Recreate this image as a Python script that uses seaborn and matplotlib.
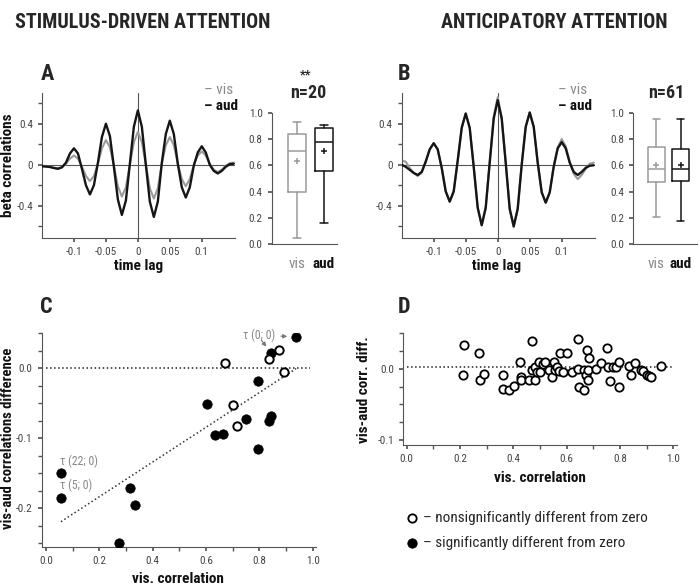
import numpy as np
import matplotlib
matplotlib.use("Agg")
import matplotlib.pyplot as plt
import matplotlib.font_manager as fm
import seaborn as sns

# ---- data ----
lags = np.round(np.arange(-24, 25) * 0.00625, 5)

a_vis = [-0.01, -0.015, -0.02, -0.03, -0.035, -0.025, 0.01, 0.06, 0.09, 0.06,
         -0.02, -0.11, -0.16, -0.11, 0.01, 0.16, 0.24, 0.17, -0.01, -0.21,
         -0.31, -0.22, 0.0, 0.22, 0.32, 0.22, 0.0, -0.23, -0.33, -0.23,
         0.01, 0.19, 0.27, 0.19, 0.01, -0.14, -0.21, -0.14, 0.0, 0.09,
         0.13, 0.09, 0.01, -0.05, -0.07, -0.05, -0.01, 0.015, 0.02]
a_aud = [-0.015, -0.018, -0.022, -0.032, -0.04, -0.025, 0.02, 0.11, 0.16, 0.11,
         -0.04, -0.20, -0.29, -0.20, 0.02, 0.27, 0.40, 0.28, -0.02, -0.34,
         -0.49, -0.35, 0.01, 0.37, 0.53, 0.37, 0.0, -0.36, -0.51, -0.36,
         0.02, 0.30, 0.43, 0.30, 0.01, -0.22, -0.32, -0.22, -0.01, 0.12,
         0.18, 0.12, 0.0, -0.06, -0.085, -0.06, -0.02, 0.005, 0.01]
b_vis = [0.04, 0.03, -0.03, -0.08, -0.11, -0.08, 0.03, 0.15, 0.21, 0.15,
         -0.03, -0.26, -0.36, -0.26, 0.04, 0.36, 0.50, 0.36, -0.02, -0.42,
         -0.59, -0.42, 0.03, 0.47, 0.66, 0.46, 0.02, -0.44, -0.61, -0.43,
         0.01, 0.37, 0.51, 0.37, 0.02, -0.27, -0.37, -0.27, -0.01, 0.17,
         0.25, 0.18, 0.03, -0.09, -0.14, -0.10, -0.04, 0.01, 0.02]
b_aud = [0.0, -0.02, -0.05, -0.08, -0.10, -0.07, 0.03, 0.15, 0.21, 0.15,
         -0.03, -0.26, -0.36, -0.26, 0.04, 0.36, 0.50, 0.36, -0.02, -0.42,
         -0.59, -0.42, 0.02, 0.45, 0.63, 0.45, 0.02, -0.43, -0.60, -0.43,
         0.0, 0.37, 0.51, 0.37, 0.02, -0.27, -0.37, -0.27, -0.02, 0.16,
         0.22, 0.16, 0.02, -0.07, -0.10, -0.07, -0.03, -0.01, -0.005]

# box summaries: whislo, q1, median, q3, whishi, mean
box_a_vis = [0.05, 0.40, 0.71, 0.84, 0.93, 0.63]
box_a_aud = [0.16, 0.56, 0.78, 0.88, 0.91, 0.71]
box_b_vis = [0.21, 0.47, 0.575, 0.74, 0.95, 0.60]
box_b_aud = [0.18, 0.48, 0.575, 0.725, 0.95, 0.60]

# panel C
c_sig_x = [0.056, 0.056, 0.274, 0.315, 0.334, 0.6025, 0.6325, 0.665, 0.75,
           0.794, 0.794, 0.834, 0.844, 0.843, 0.9375]
c_sig_y = [-0.150, -0.186, -0.249, -0.171, -0.195, -0.051, -0.096, -0.094, -0.072,
           -0.018, -0.116, -0.075, -0.068, 0.022, 0.045]
c_ns_x = [0.671, 0.700, 0.715, 0.834, 0.873, 0.8925]
c_ns_y = [0.007, -0.052, -0.082, 0.013, 0.026, -0.005]

# panel D
d_x = [0.216, 0.209, 0.27, 0.274, 0.291, 0.36, 0.361, 0.385, 0.401, 0.426,
       0.43, 0.429, 0.46, 0.469, 0.47, 0.48, 0.4825, 0.4875, 0.496, 0.50,
       0.509, 0.52, 0.535, 0.544, 0.5525, 0.554, 0.565, 0.57, 0.575, 0.5875,
       0.6025, 0.62, 0.641, 0.6425, 0.646, 0.666, 0.666, 0.671, 0.675, 0.681,
       0.681, 0.684, 0.709, 0.729, 0.75, 0.755, 0.7625, 0.7725, 0.785, 0.794,
       0.796, 0.8325, 0.8425, 0.855, 0.8775, 0.8875, 0.90, 0.909, 0.9175, 0.9525]
d_y = [0.034, -0.008, 0.022, -0.015, -0.0075, -0.028, -0.008, -0.029, -0.024, 0.0094,
       -0.012, -0.015, -0.016, -0.002, 0.0385, -0.016, 0.003, -0.005, 0.010, -0.005,
       0.007, 0.010, -0.0014, -0.012, 0.009, -0.001, 0.002, -0.003, 0.023, -0.005,
       0.022, -0.004, 0.042, -0.0005, -0.026, -0.029, -0.002, -0.009, 0.027, -0.0014,
       -0.015, 0.015, 0.0, 0.008, 0.030, 0.002, -0.017, 0.002, 0.002, 0.010,
       -0.026, 0.004, -0.008, 0.008, -0.002, -0.003, -0.008, -0.010, -0.012, 0.004]

VIS = "#9a9a9a"
AUD = "#151515"
TXT = "#444444"

sns.set_theme(style="ticks")

# pick a condensed face if one is installed
names = {f.name for f in fm.fontManager.ttflist}
font = None
for cand in ["Roboto Condensed", "Liberation Sans Narrow", "Open Sans Condensed",
             "Noto Sans Condensed", "DejaVu Sans Condensed"]:
    if cand in names:
        font = cand
        break
stretch = "normal"
if font is None:
    for f in fm.fontManager.ttflist:
        if str(f.stretch) in ("condensed", "semi-condensed", "extra-condensed"):
            font = f.name
            stretch = "condensed"
            break
if font is None:
    font = "Liberation Sans"
plt.rcParams["font.family"] = [font, "DejaVu Sans"]
plt.rcParams["font.stretch"] = stretch
plt.rcParams["axes.unicode_minus"] = False
plt.rcParams["axes.edgecolor"] = "#555555"
plt.rcParams["axes.linewidth"] = 0.8
plt.rcParams["xtick.color"] = "#555555"
plt.rcParams["ytick.color"] = "#555555"
plt.rcParams["xtick.labelcolor"] = TXT
plt.rcParams["ytick.labelcolor"] = TXT
plt.rcParams["xtick.labelsize"] = 8
plt.rcParams["ytick.labelsize"] = 8
plt.rcParams["xtick.major.size"] = 3
plt.rcParams["ytick.major.size"] = 3
plt.rcParams["xtick.minor.size"] = 3
plt.rcParams["ytick.minor.size"] = 3

W, H = 700, 585
fig = plt.figure(figsize=(7, 5.85), dpi=100)


def box_px(left, top, right, bottom):
    return [left / W, 1 - bottom / H, (right - left) / W, (bottom - top) / H]


def ftext(x, y, s, **kw):
    fig.text(x / W, 1 - y / H, s, **kw)


def label_at(ax, axis, xpx, ypx):
    # anchor an axis label at a figure pixel position
    inv = ax.transAxes.inverted()
    pos = inv.transform(fig.transFigure.transform((xpx / W, 1 - ypx / H)))
    if axis == "y":
        ax.yaxis.set_label_coords(pos[0], pos[1])
    else:
        ax.xaxis.set_label_coords(pos[0], pos[1])


def line_panel(ax, vis, aud):
    ax.axhline(0, color="#555555", lw=0.8, zorder=1)
    ax.axvline(0, color="#555555", lw=0.8, zorder=1)
    sns.lineplot(x=lags, y=vis, ax=ax, color=VIS, lw=1.5, zorder=2)
    sns.lineplot(x=lags, y=aud, ax=ax, color=AUD, lw=1.7, zorder=3)
    ax.set_xlim(-0.15, 0.152)
    ax.set_ylim(-0.715, 0.70)
    ax.set_xticks([-0.1, -0.05, 0, 0.05, 0.1], ["-0.1", "-0.05", "0", "0.05", "0.1"])
    ax.set_yticks([-0.4, 0, 0.4], ["-0.4", "0", "0.4"])
    ax.set_yticks([-0.6, -0.2, 0.2, 0.6], minor=True)
    ax.tick_params(axis="y", which="minor", labelleft=False)
    ax.set_xlabel("time lag", fontsize=11, fontweight="bold", color="#111111")
    sns.despine(ax=ax)


def box_panel(ax, vis, aud, xlim):
    stats = []
    for vals, lab in [(vis, "vis"), (aud, "aud")]:
        stats.append(dict(whislo=vals[0], q1=vals[1], med=vals[2], q3=vals[3],
                          whishi=vals[4], mean=vals[5], fliers=[], label=lab))
    for i, (st, col) in enumerate(zip(stats, [VIS, AUD])):
        ax.bxp([st], positions=[i], widths=0.68, showmeans=True, showfliers=False,
               boxprops=dict(color=col, lw=1.1), whiskerprops=dict(color=col, lw=1.1),
               capprops=dict(color=col, lw=1.1), medianprops=dict(color=col, lw=1.1),
               meanprops=dict(marker="+", markeredgecolor=col, markersize=5, mew=1.1),
               capwidths=0.3)
    ax.set_xlim(*xlim)
    ax.set_ylim(0, 1.0)
    ax.set_yticks(np.round(np.arange(0, 1.01, 0.2), 1),
                  ["0.0", "0.2", "0.4", "0.6", "0.8", "1.0"])
    ax.set_xticks([0, 1], ["vis", "aud"])
    ax.tick_params(axis="x", length=0, pad=9, labelsize=11)
    lbls = ax.get_xticklabels()
    lbls[0].set_color("#8a8a8a")
    lbls[1].set_color("#111111")
    lbls[1].set_fontweight("bold")
    sns.despine(ax=ax)


# ---- top row ----
ax_a = fig.add_axes(box_px(42, 93, 235, 238))
line_panel(ax_a, a_vis, a_aud)
ax_a.set_ylabel("beta correlations", fontsize=11, fontweight="bold", color="#111111")
label_at(ax_a, "y", 15, 165)
label_at(ax_a, "x", 139, 259)

ax_ab = fig.add_axes(box_px(271.7, 112.7, 337, 244.3))
box_panel(ax_ab, box_a_vis, box_a_aud, (-0.96, 1.49))

ax_b = fig.add_axes(box_px(401.7, 93, 595, 238))
line_panel(ax_b, b_vis, b_aud)
label_at(ax_b, "x", 497, 259)

ax_bb = fig.add_axes(box_px(633.3, 112.7, 696.7, 244.3))
box_panel(ax_bb, box_b_vis, box_b_aud, (-0.94, 1.65))

# ---- panel C ----
ax_c = fig.add_axes(box_px(41.7, 333.3, 316, 546.7))
ax_c.hlines(0, 0, 0.99, colors="#222222", lw=1.1, linestyles=":")
sns.regplot(x=c_sig_x + c_ns_x, y=c_sig_y + c_ns_y, ax=ax_c, scatter=False, ci=None,
            truncate=True, line_kws=dict(color="#333333", lw=1.1, ls=":"))
sns.scatterplot(x=c_sig_x, y=c_sig_y, ax=ax_c, color="black", s=46, edgecolor="black",
                linewidth=0.5, zorder=4)
sns.scatterplot(x=c_ns_x, y=c_ns_y, ax=ax_c, color="white", s=36, edgecolor="black",
                linewidth=1.4, zorder=4)
ax_c.set_xlim(-0.016, 1.012)
ax_c.set_ylim(-0.255, 0.05)
ax_c.set_xticks(np.round(np.arange(0, 1.01, 0.2), 1),
                ["0.0", "0.2", "0.4", "0.6", "0.8", "1.0"])
ax_c.set_xticks(np.round(np.arange(0.1, 1.0, 0.2), 1), minor=True)
ax_c.set_yticks([-0.2, -0.1, 0.0], ["-0.2", "-0.1", "0.0"])
ax_c.set_yticks(np.round(np.arange(-0.25, 0.051, 0.025), 3), minor=True)
ax_c.tick_params(which="minor", labelbottom=False, labelleft=False)
ax_c.set_ylabel("vis-aud correlations difference", fontsize=10.5, fontweight="bold",
                color="#111111")
ax_c.set_xlabel("vis. correlation", fontsize=11, fontweight="bold", color="#111111")
label_at(ax_c, "y", 15, 438)
label_at(ax_c, "x", 178, 572)
sns.despine(ax=ax_c)
ax_c.text(0.054, -0.142, "τ (22; 0)", color="#888888", fontsize=8.5, va="bottom")
ax_c.text(0.054, -0.177, "τ (5; 0)", color="#888888", fontsize=8.5, va="bottom")
ax_c.annotate("τ (0; 0)", xy=(0.925, 0.045), xytext=(0.737, 0.0476), color="#888888",
              fontsize=8.5, va="center",
              arrowprops=dict(arrowstyle="-|>", color="#777777", lw=0.8, mutation_scale=6,
                              shrinkB=4))
ax_c.annotate("", xy=(0.826, 0.031), xytext=(0.807, 0.040),
              arrowprops=dict(arrowstyle="-|>", color="#777777", lw=0.8, mutation_scale=6,
                              shrinkA=0, shrinkB=0))

# ---- panel D ----
ax_d = fig.add_axes(box_px(403.3, 333.3, 676.7, 445))
ax_d.hlines(0.002, 0, 1.0, colors="#222222", lw=1.1, linestyles=":")
sns.scatterplot(x=d_x, y=d_y, ax=ax_d, color="white", s=36, edgecolor="black",
                linewidth=1.3, zorder=4)
ax_d.set_xlim(-0.013, 1.012)
ax_d.set_ylim(-0.107, 0.05)
ax_d.set_xticks(np.round(np.arange(0, 1.01, 0.2), 1),
                ["0.0", "0.2", "0.4", "0.6", "0.8", "1.0"])
ax_d.set_xticks(np.round(np.arange(0.1, 1.0, 0.2), 1), minor=True)
ax_d.set_yticks([-0.1, 0.0], ["-0.1", "0.0"])
ax_d.set_yticks(np.round(np.arange(-0.1, 0.051, 0.025), 3), minor=True)
ax_d.tick_params(which="minor", labelbottom=False, labelleft=False)
ax_d.set_ylabel("vis-aud corr. diff.", fontsize=11, fontweight="bold", color="#111111")
ax_d.set_xlabel("vis. correlation", fontsize=11, fontweight="bold", color="#111111")
label_at(ax_d, "y", 371, 390)
label_at(ax_d, "x", 540, 471)
sns.despine(ax=ax_d)

# ---- titles, letters, small texts ----
ftext(15, 22, "STIMULUS-DRIVEN ATTENTION", fontsize=14.5, fontweight="bold", va="center")
ftext(441, 22, "ANTICIPATORY ATTENTION", fontsize=14.5, fontweight="bold", va="center")
for lx, ly, letter in [(41, 74, "A"), (398, 74, "B"), (40, 307, "C"), (398, 307, "D")]:
    ftext(lx, ly, letter, fontsize=16, fontweight="bold", va="center")

for x0 in (204, 558):
    ftext(x0, 90, "– vis", fontsize=11, color="#8a8a8a", va="center")
    ftext(x0, 106, "– aud", fontsize=11, fontweight="bold", color="#111111", va="center")

ftext(306, 75, "**", fontsize=9, fontweight="bold", ha="center", va="center")
ftext(308, 93, "n=20", fontsize=13, fontweight="bold", ha="center", va="center")
ftext(666, 93, "n=61", fontsize=13, fontweight="bold", ha="center", va="center")

# legend for significance markers
ax_leg = fig.add_axes(box_px(400, 505, 700, 555))
ax_leg.set_axis_off()
ax_leg.set_xlim(0, 300)
ax_leg.set_ylim(50, 0)
leg_y = [13.3, 38.3]
sns.scatterplot(x=[11.7], y=[leg_y[0]], ax=ax_leg, color="white", s=36, edgecolor="black",
                linewidth=1.3)
sns.scatterplot(x=[11.7], y=[leg_y[1]], ax=ax_leg, color="black", s=46, edgecolor="black")
ax_leg.text(23, leg_y[0], "– nonsignificantly different from zero", fontsize=11, va="center")
ax_leg.text(23, leg_y[1], "– significantly different from zero", fontsize=11, va="center")

fig.savefig("out.png", dpi=100, facecolor="white")
